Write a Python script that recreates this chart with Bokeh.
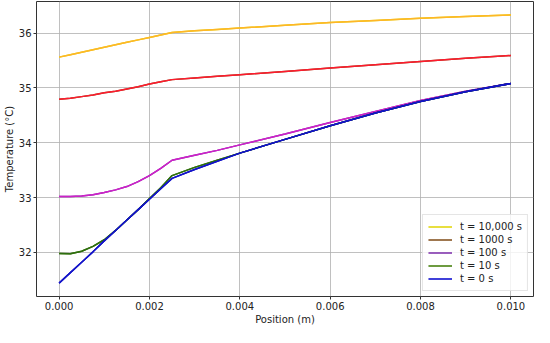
from bokeh.plotting import figure
from bokeh.models import Legend, LegendItem, FixedTicker, NumeralTickFormatter, Range1d
from bokeh.embed import file_html
from bokeh.resources import INLINE

# Position along the domain (m)
position = [0.0, 0.00025, 0.0005, 0.00075, 0.001, 0.00125, 0.0015, 0.00175, 0.002,
            0.00225, 0.0025, 0.003, 0.0035, 0.004, 0.005, 0.006, 0.007, 0.008, 0.009, 0.010]

# Temperatures (°C)
t_10000 = [35.56, 35.605, 35.65, 35.695, 35.74, 35.785, 35.83, 35.875, 35.92, 35.965,
           36.01, 36.04, 36.065, 36.09, 36.14, 36.19, 36.23, 36.27, 36.30, 36.33]
t_1000 = [34.79, 34.81, 34.84, 34.87, 34.91, 34.94, 34.98, 35.02, 35.07, 35.11,
          35.15, 35.18, 35.21, 35.24, 35.30, 35.36, 35.42, 35.48, 35.54, 35.59]
t_100 = [33.02, 33.02, 33.03, 33.05, 33.09, 33.14, 33.20, 33.29, 33.40, 33.53,
         33.68, 33.77, 33.86, 33.96, 34.16, 34.37, 34.57, 34.77, 34.94, 35.08]
t_10 = [31.98, 31.975, 32.02, 32.11, 32.23, 32.40, 32.59, 32.78, 32.98, 33.18,
        33.40, 33.55, 33.68, 33.81, 34.06, 34.31, 34.54, 34.75, 34.93, 35.08]
t_0 = [31.44, 31.63, 31.82, 32.01, 32.21, 32.40, 32.59, 32.78, 32.97, 33.16,
       33.35, 33.51, 33.66, 33.81, 34.06, 34.31, 34.54, 34.75, 34.93, 35.08]

labels = ["t = 10,000 s", "t = 1000 s", "t = 100 s", "t = 10 s", "t = 0 s"]
series = [t_10000, t_1000, t_100, t_10, t_0]
legend_colors = ["#e0d400", "#7f4a14", "#7a2aa8", "#3c7a00", "#0000cc"]
line_colors = ["#ffb627", "#ff1a2e", "#d020c8", "#2e6e10", "#1414c8"]

x_ticks = [0.0, 0.002, 0.004, 0.006, 0.008, 0.010]
y_ticks = [32, 33, 34, 35, 36]

all_y = [v for s in series for v in s]
xmin, xmax = min(position), max(position)
ymin, ymax = min(all_y), max(all_y)
xpad = 0.05 * (xmax - xmin)
ypad = 0.05 * (ymax - ymin)

p = figure(width=534, height=327, output_backend="svg", toolbar_location=None,
           x_range=Range1d(xmin - xpad, xmax + xpad),
           y_range=Range1d(ymin - ypad, ymax + ypad),
           min_border_left=0, min_border_right=1, min_border_top=1, min_border_bottom=0)

p.outline_line_color = "#333333"
p.outline_line_width = 1
p.background_fill_color = "white"
p.border_fill_color = "white"

for ax in (p.xaxis[0], p.yaxis[0]):
    ax.axis_line_color = None
    ax.major_tick_line_color = "#333333"
    ax.major_tick_in = 0
    ax.major_tick_out = 3
    ax.minor_tick_line_color = None
    ax.major_label_text_font = "DejaVu Sans"
    ax.major_label_text_font_size = "10px"
    ax.major_label_text_color = "#222222"
    ax.axis_label_text_font = "DejaVu Sans"
    ax.axis_label_text_font_size = "10px"
    ax.axis_label_text_font_style = "normal"
    ax.axis_label_text_color = "#222222"
    ax.major_label_standoff = 2
    ax.axis_label_standoff = 1

p.xaxis.ticker = FixedTicker(ticks=x_ticks)
p.xaxis.formatter = NumeralTickFormatter(format="0.000")
p.yaxis.ticker = FixedTicker(ticks=y_ticks)
p.xaxis.axis_label = "Position (m)"
p.yaxis.axis_label = "Temperature (°C)"

p.xgrid.grid_line_color = "#b0b0b0"
p.ygrid.grid_line_color = "#b0b0b0"
p.xgrid.grid_line_width = 0.8
p.ygrid.grid_line_width = 0.8

items = []
for lab, ys, lc, vc in zip(labels, series, legend_colors, line_colors):
    r_leg = p.line(position, ys, line_color=lc, line_width=1.5)
    p.line(position, ys, line_color=vc, line_width=1.5)
    items.append(LegendItem(label=lab, renderers=[r_leg]))

legend = Legend(items=items, location="bottom_right")
legend.label_text_font = "DejaVu Sans"
legend.label_text_font_size = "10px"
legend.label_text_color = "#222222"
legend.glyph_width = 24
legend.glyph_height = 13
legend.label_height = 13
legend.label_standoff = 8
legend.spacing = 0
legend.padding = 5
legend.margin = 5
legend.border_line_color = "#cccccc"
legend.background_fill_alpha = 0.8
p.add_layout(legend)

open("out.html", "w").write(file_html(p, INLINE))
